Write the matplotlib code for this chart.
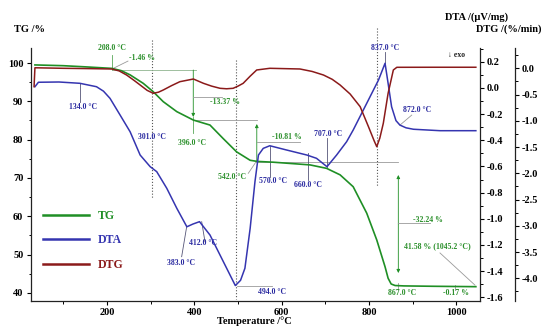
import matplotlib
matplotlib.use('Agg')
import matplotlib.pyplot as plt
from matplotlib.ticker import MultipleLocator, FormatStrFormatter

plt.rcParams['axes.unicode_minus'] = False
FONT = ['Liberation Serif', 'DejaVu Serif', 'DejaVu Sans']
plt.rcParams['font.family'] = FONT
plt.rcParams['font.weight'] = 'bold'

# ---------------- data ----------------
tg_temp = [35, 100, 150, 211, 233, 253, 283, 306, 329, 360, 398, 436, 466, 497, 528, 545,
           581, 665, 703, 734, 764, 795, 818, 837, 844, 851, 860, 880, 950, 1045]
tg_mass = [99.5, 99.3, 99.0, 98.6, 98.0, 96.9, 94.7, 92.5, 89.9, 87.3, 85.1, 83.8, 80.3,
           76.8, 74.6, 74.3, 74.1, 73.4, 72.5, 70.8, 67.7, 60.8, 53.8, 46.8, 43.8, 42.3,
           41.9, 41.8, 41.7, 41.6]

dtg_temp = [33, 35, 100, 150, 211, 228, 245, 262, 276, 292, 306, 318, 329, 348, 367, 398,
            421, 440, 459, 474, 489, 500, 512, 528, 543, 573, 642, 670, 696, 716, 734,
            757, 780, 799, 812, 818, 825, 833, 844, 856, 864, 950, 1045]
dtg_rate = [-0.35, 0.01, 0.0, -0.005, -0.013, -0.05, -0.128, -0.23, -0.318, -0.42, -0.476,
            -0.455, -0.413, -0.33, -0.255, -0.204, -0.286, -0.34, -0.381, -0.39, -0.381,
            -0.34, -0.286, -0.15, -0.032, 0.0, -0.013, -0.06, -0.128, -0.21, -0.318,
            -0.49, -0.731, -1.112, -1.38, -1.493, -1.33, -1.048, -0.476, -0.032, 0.019,
            0.02, 0.02]

dta_temp = [35, 43, 90, 138, 176, 192, 207, 230, 253, 276, 299, 314, 337, 360, 383, 397,
            412, 436, 459, 482, 494, 506, 516, 528, 539, 547, 558, 573, 612, 658, 680, 704,
            726, 749, 764, 795, 822, 837, 844, 852, 862, 871, 885, 902, 963, 1045]
dta_val = [0.009, 0.043, 0.045, 0.035, 0.009, -0.025, -0.080, -0.207, -0.335, -0.513,
           -0.602, -0.640, -0.767, -0.920, -1.061, -1.04, -1.022, -1.124, -1.277, -1.430,
           -1.51, -1.47, -1.378, -1.073, -0.717, -0.513, -0.462, -0.442, -0.475, -0.513,
           -0.538, -0.602, -0.513, -0.411, -0.322, -0.118, 0.060, 0.188, 0.035, -0.144,
           -0.25, -0.284, -0.305, -0.316, -0.327, -0.327]

x_ticks = [200, 400, 600, 800, 1000]
tg_ticks = [40, 50, 60, 70, 80, 90, 100]

# ---------------- style ----------------
C_TG = '#1f8f25'
C_DTA = '#3535b0'
C_DTG = '#8b1a1a'
C_TXT_G = '#2a8f2a'
C_TXT_B = '#2a2aa0'
C_GRAY = '#9a9a9a'
C_DOT = '#555555'

W, H = 548, 327
fig = plt.figure(figsize=(W / 100, H / 100), dpi=100)
ax = fig.add_axes([31 / W, 26 / H, 449 / W, 253 / H])
ax2 = ax.twinx()
ax3 = ax.twinx()

ax.set_xlim(26, 1054.5)
ax.set_ylim(37.86, 103.92)
ax2.set_ylim(-1.628, 0.3047)
ax3.set_ylim(-4.4324, 0.3867)

l_dtg, = ax3.plot(dtg_temp, dtg_rate, color=C_DTG, lw=1.1, label='DTG', zorder=3)
l_dta, = ax2.plot(dta_temp, dta_val, color=C_DTA, lw=1.1, label='DTA', zorder=3)
l_tg, = ax.plot(tg_temp, tg_mass, color=C_TG, lw=1.2, label='TG', zorder=4)

# spines
for s in ['top', 'right']:
    ax.spines[s].set_visible(False)
for a in (ax2, ax3):
    for s in ['top', 'left', 'bottom']:
        a.spines[s].set_visible(False)
ax3.spines['right'].set_position(('axes', 1 + 35 / 449))
for a in (ax, ax2, ax3):
    for s in a.spines.values():
        s.set_linewidth(0.9)
        s.set_color('#222222')

# ticks
ax.set_xticks(x_ticks)
ax.xaxis.set_minor_locator(MultipleLocator(100))
ax.set_yticks(tg_ticks)
ax.yaxis.set_minor_locator(MultipleLocator(5))
ax2.yaxis.set_major_locator(MultipleLocator(0.2))
ax2.yaxis.set_minor_locator(MultipleLocator(0.1))
ax2.yaxis.set_major_formatter(FormatStrFormatter('%.1f'))
ax3.yaxis.set_major_locator(MultipleLocator(0.5))
ax3.yaxis.set_minor_locator(MultipleLocator(0.25))
ax3.yaxis.set_major_formatter(FormatStrFormatter('%.1f'))
ax3.set_yticks([0.0, -0.5, -1.0, -1.5, -2.0, -2.5, -3.0, -3.5, -4.0])

for a in (ax, ax2, ax3):
    a.tick_params(which='major', length=3, width=0.8, labelsize=7.5, pad=2)
    a.tick_params(which='minor', length=1.8, width=0.7)
ax.tick_params(axis='y', pad=2.5)
for a in (ax, ax2, ax3):
    for lab in a.get_xticklabels() + a.get_yticklabels():
        lab.set_fontweight('bold')
        lab.set_family(FONT)

# axis titles
def ftxt(x, y, s, **kw):
    fig.text(x / W, 1 - y / H, s, ha='center', va='center', fontsize=7.5,
             fontweight='bold', family=FONT, **kw)

ftxt(30, 30, 'TG /%')
ftxt(476.5, 17.5, 'DTA /(\u00b5V/mg)')
ftxt(509, 29.5, 'DTG /(%/min)')
ftxt(254, 321, 'Temperature /\u00b0C')

# ---------------- annotations (in TG-axes data units) ----------------
def t(x, y, s, c):
    ax.text(x, y, s, color=c, fontsize=5.6, fontweight='bold', ha='center',
            va='center', family=FONT, clip_on=False, zorder=6)

def seg(x0, y0, x1, y1, c=C_GRAY, lw=0.6, ls='-'):
    ax.plot([x0, x1], [y0, y1], color=c, lw=lw, ls=ls, clip_on=False, zorder=2)

def arr(x0, y0, x1, y1, c=C_TG, style='-|>'):
    ax.annotate('', xy=(x1, y1), xytext=(x0, y0),
                arrowprops=dict(arrowstyle=style, color=c, lw=0.6,
                                mutation_scale=5, shrinkA=0, shrinkB=0),
                annotation_clip=False, zorder=2)

# dotted vertical guides
seg(303, 106.0, 303, 64.7, c=C_DOT, lw=0.8, ls=':')
seg(495, 100.8, 495, 38.4, c=C_DOT, lw=0.8, ls=':')
seg(818, 109.1, 818, 67.9, c=C_DOT, lw=0.8, ls=':')

# step 1 (208 C)
seg(210.8, 102.1, 210.8, 98.2, c='#5aa85a')
seg(210.8, 98.17, 405, 98.17, c='#8fb48f')
seg(214.4, 98.6, 248.1, 100.5)
t(211.5, 104.05, '208.0 \u00b0C', C_TXT_G)
t(279.5, 101.2, '-1.46 %', C_TXT_G)

# step 2 (396 C)
arr(397.7, 98.17, 397.7, 85.9)
seg(397.7, 85.9, 397.7, 81.7, c='#5aa85a')
seg(397.7, 91.2, 463.5, 91.2)
seg(397.7, 85.0, 543.2, 85.0)
t(470.3, 89.9, '-13.37 %', C_TXT_G)
t(394.7, 79.2, '396.0 \u00b0C', C_TXT_G)

# step 3 (542 C)
arr(543.2, 74.23, 543.2, 84.07)
seg(543.2, 79.37, 642, 79.37)
seg(523.7, 71.2, 539.1, 73.8)
seg(539, 74.07, 866.7, 74.07)
t(612.4, 80.8, '-10.81 %', C_TXT_G)
t(486.4, 70.3, '542.0 \u00b0C', C_TXT_G)

# step 4 (867 C)
arr(867.4, 58.0, 867.4, 70.76)
arr(867.4, 58.0, 867.4, 45.17)
seg(867.4, 58.15, 940, 58.15)
seg(867.4, 42.56, 867.4, 40.7)
seg(997, 42.0, 997, 40.7)
seg(962.9, 50.4, 1043, 42.0)
t(935.4, 59.1, '-32.24 %', C_TXT_G)
t(957.2, 52.1, '41.58 % (1045.2 \u00b0C)', C_TXT_G)
t(877, 39.9, '867.0 \u00b0C', C_TXT_G)
t(999.6, 39.9, '-0.17 %', C_TXT_G)

# DTA labels
seg(138.1, 94.7, 138.1, 89.9, c='#555577')
t(145.7, 88.6, '134.0 \u00b0C', C_TXT_B)
t(303, 80.8, '301.0 \u00b0C', C_TXT_B)
seg(382.6, 57.26, 371.1, 49.43, c='#555577')
t(369.5, 47.9, '383.0 \u00b0C', C_TXT_B)
seg(417, 58.56, 424.5, 53.34, c='#555577')
t(419.9, 52.9, '412.0 \u00b0C', C_TXT_B)
seg(497, 41.85, 577.3, 41.85)
t(578, 40.1, '494.0 \u00b0C', C_TXT_B)
seg(573.4, 78.4, 573.4, 70.3, c='#555577')
t(580.3, 69.1, '570.0 \u00b0C', C_TXT_B)
seg(661.2, 76.4, 661.2, 69.5, c='#555577')
t(661.6, 68.1, '660.0 \u00b0C', C_TXT_B)
seg(704.7, 80.3, 704.7, 72.9, c='#555577')
t(707.5, 81.4, '707.0 \u00b0C', C_TXT_B)
seg(836.9, 102.95, 836.9, 100.0, c='#555577')
t(836.9, 104.05, '837.0 \u00b0C', C_TXT_B)
seg(871.3, 83.8, 898.1, 86.4)
t(909.5, 87.7, '872.0 \u00b0C', C_TXT_B)

t(999.6, 102.1, '\u2193 exo', '#222222')

# legend
leg = ax.legend(handles=[l_tg, l_dta, l_dtg], loc='upper left',
                bbox_to_anchor=(0.027, 0.36), frameon=False, borderaxespad=0,
                borderpad=0, handlelength=3.9, handletextpad=0.75,
                labelspacing=1.05, prop=dict(family=FONT, weight='bold', size=8.5))
for txt, c in zip(leg.get_texts(), [C_TG, C_DTA, C_DTG]):
    txt.set_color(c)
for h in leg.legend_handles:
    h.set_linewidth(1.8)

fig.savefig('out.png', dpi=100, facecolor='white')
